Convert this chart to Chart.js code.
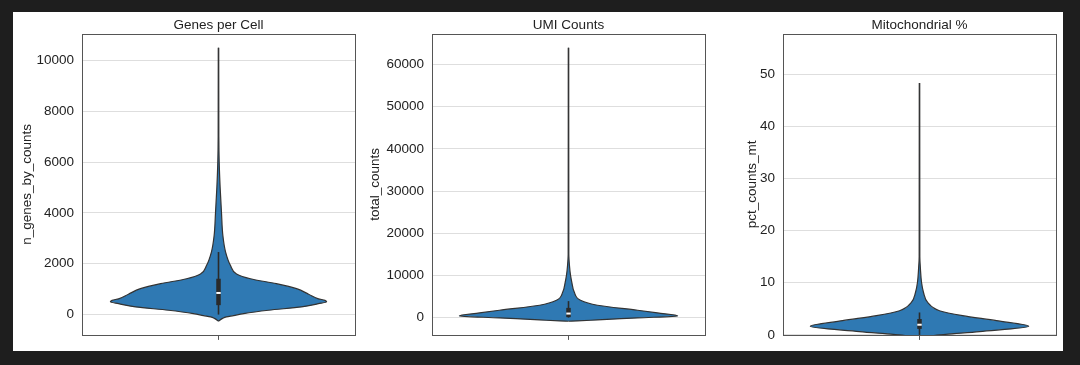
<!DOCTYPE html>
<html>
<head>
<meta charset="utf-8">
<script src="https://cdn.jsdelivr.net/npm/chart.js@4.4.1/dist/chart.umd.min.js"></script>
<style>
  html, body { margin: 0; padding: 0; background: #1e1e1e; }
  #sheet { position: absolute; left: 13px; top: 12px; width: 1050px; height: 339px; background: #fff; }
  canvas { position: absolute; top: 0; }
</style>
</head>
<body>
<div id="sheet">
  <canvas id="c1" width="350" height="339" style="left:0"></canvas>
  <canvas id="c2" width="350" height="339" style="left:350px"></canvas>
  <canvas id="c3" width="350" height="339" style="left:700px"></canvas>
</div>
<script>
// violin outlines: value along y, half width (in category units, max 0.4)
const genesY = [-262, -150, -92, -40, 40, 170, 300, 430, 500, 560, 620, 800, 1020, 1215, 1410, 1600, 1930, 2460, 3110, 4000, 5000, 6000, 7000, 10500];
const genesW = [0, 0.015, 0.029, 0.055, 0.092, 0.183, 0.304, 0.366, 0.396, 0.39, 0.366, 0.33, 0.286, 0.212, 0.117, 0.066, 0.044, 0.026, 0.016, 0.011, 0.006, 0.0025, 0.0012, 0.0008];
const genesBox = [370, 1410];
const genesWhisker = [0, 2460];
const genesMedian = 850;
const genesTicks = [0, 2000, 4000, 6000, 8000, 10000];

const umiY = [-870, -787, -551, -79, 394, 1100, 1732, 2913, 4094, 6063, 8425, 10000, 12362, 15000, 64000];
const umiW = [0, 0.033, 0.106, 0.253, 0.4, 0.326, 0.253, 0.106, 0.044, 0.021, 0.012, 0.0075, 0.0035, 0.0012, 0.0008];
const umiBox = [100, 2300];
const umiWhisker = [0, 3900];
const umiMedian = 950;
const umiTicks = [0, 10000, 20000, 30000, 40000, 50000, 60000];

const mitoY = [-0.6, -0.3, 0, 0.64, 1.65, 2.73, 3.69, 4.64, 6.23, 8.14, 10.05, 12.6, 15, 48.3];
const mitoW = [0, 0.03, 0.075, 0.22, 0.4, 0.282, 0.158, 0.073, 0.030, 0.0147, 0.0075, 0.0035, 0.0012, 0.0008];
const mitoBox = [1.15, 3.05];
const mitoWhisker = [0, 4.3];
const mitoMedian = 1.95;
const mitoTicks = [0, 10, 20, 30, 40, 50];

const violinBlue = '#2f79b3';
const outline = '#333';
const boxColor = '#2a2a2a';
const frameColor = '#555';
const textColor = '#222';
const font = { family: "'Liberation Sans', Arial, sans-serif", size: 13.5 };

// frame round the plot area
const framePlugin = {
  id: 'frame',
  afterDraw(chart) {
    const { ctx, chartArea: a } = chart;
    ctx.save();
    ctx.strokeStyle = frameColor;
    ctx.lineWidth = 1;
    ctx.strokeRect(Math.round(a.left) + 0.5, Math.round(a.top) + 0.5, Math.round(a.right - a.left), Math.round(a.bottom - a.top));
    ctx.restore();
  }
};

function half(ys, ws, sign) {
  return ys.map((y, i) => ({ x: sign * ws[i], y: y }));
}

function violin(id, p) {
  new Chart(document.getElementById(id), {
    type: 'line',
    data: {
      datasets: [
        { data: half(p.ys, p.ws, 1), fill: false, borderColor: outline, borderWidth: 1.2, pointRadius: 0, cubicInterpolationMode: 'monotone', order: 2 },
        { data: half(p.ys, p.ws, -1), fill: '-1', backgroundColor: violinBlue, borderColor: outline, borderWidth: 1.2, pointRadius: 0, cubicInterpolationMode: 'monotone', order: 2 },
        { data: [{ x: 0, y: p.whisker[0] }, { x: 0, y: p.whisker[1] }], borderColor: boxColor, borderWidth: 1.6, pointRadius: 0, order: 1 },
        { data: [{ x: 0, y: p.box[0] }, { x: 0, y: p.box[1] }], borderColor: boxColor, borderWidth: 4.5, borderCapStyle: 'butt', pointRadius: 0, order: 0 },
        { data: [{ x: 0, y: p.median }], showLine: false, pointStyle: 'line', pointRadius: 2.2, pointBorderColor: '#fff', pointBorderWidth: 2, order: -1 }
      ]
    },
    options: {
      responsive: false,
      animation: false,
      indexAxis: 'y',
      layout: { padding: { left: 0, right: p.padR, top: 0, bottom: 0 } },
      plugins: {
        legend: { display: false },
        tooltip: { enabled: false },
        filler: { drawTime: 'beforeDatasetsDraw' }
      },
      scales: {
        x: {
          type: 'linear', position: 'bottom', min: -0.5, max: 0.5,
          afterBuildTicks: s => { s.ticks = [{ value: 0 }]; },
          ticks: { callback: () => '', font: font },
          grid: { drawOnChartArea: false, drawTicks: true, tickLength: 5, color: frameColor },
          border: { display: false },
          afterFit: s => { s.height = 15; }
        },
        top: {
          type: 'linear', position: 'top', min: -0.5, max: 0.5,
          ticks: { display: false },
          grid: { display: false },
          border: { display: false },
          title: { display: true, text: p.title, color: textColor, font: font, padding: { top: 5, bottom: 0 } },
          afterFit: s => { s.height = 22; }
        },
        y: {
          type: 'linear', position: 'left', min: p.min, max: p.max, z: 1,
          afterBuildTicks: s => { s.ticks = p.ticks.map(v => ({ value: v })); },
          ticks: { callback: v => String(v), color: textColor, font: font, padding: 8 },
          grid: { color: 'rgba(190,190,190,0.5)', lineWidth: 1, drawTicks: false },
          border: { display: false },
          title: { display: true, text: p.label, color: textColor, font: font, padding: { top: p.titlePad, bottom: 0 } },
          afterFit: s => { s.width = p.axisW; }
        }
      }
    },
    plugins: [framePlugin]
  });
}

violin('c1', { title: 'Genes per Cell', label: 'n_genes_by_counts', ys: genesY, ws: genesW, box: genesBox, whisker: genesWhisker, median: genesMedian, ticks: genesTicks, min: -800, max: 11040, axisW: 69, titlePad: 6, padR: 8 });
violin('c2', { title: 'UMI Counts', label: 'total_counts', ys: umiY, ws: umiW, box: umiBox, whisker: umiWhisker, median: umiMedian, ticks: umiTicks, min: -4110, max: 67240, axisW: 69, titlePad: 4, padR: 8 });
violin('c3', { title: 'Mitochondrial %', label: 'pct_counts_mt', ys: mitoY, ws: mitoW, box: mitoBox, whisker: mitoWhisker, median: mitoMedian, ticks: mitoTicks, min: 0, max: 57.7, axisW: 70, titlePad: 31, padR: 7 });
</script>
</body>
</html>
